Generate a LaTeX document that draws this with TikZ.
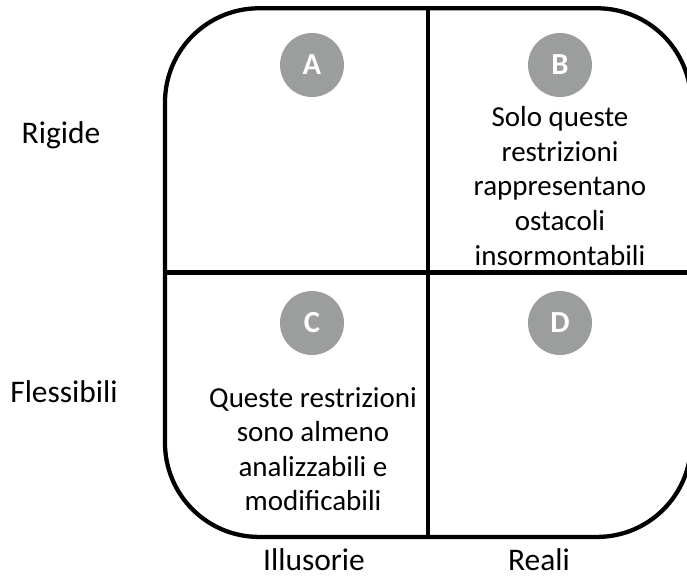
\documentclass[tikz,border=0pt]{standalone}
\usepackage{fontspec}
\setmainfont{Carlito}
\usetikzlibrary{positioning}
\definecolor{lettergray}{RGB}{156,158,158}

\begin{document}
\begin{tikzpicture}[x=0.75pt,y=-0.75pt,line width=3.2pt,
                box node/.style={draw,rounded corners=70.5pt,minimum width=394.5pt,minimum height=396.5pt,inner sep=0pt},
                letter node/.style={circle,fill=lettergray,text=white,minimum size=48pt,inner sep=0pt,font=\fontsize{23}{28}\selectfont\bfseries},
                text node/.style={align=center,font=\fontsize{21.75}{25.9}\selectfont},
                axis node/.style={inner sep=1pt,font=\fontsize{23.6}{28}\selectfont}]
            \useasboundingbox (0,0) rectangle (687,576);
            \node[box node] (box) at (428,272.6) {};
            \draw (box.north) -- (box.south);
            \draw (box.west) -- (box.east);
            % quadrants
            \node[letter node] (A) at (312,65) {A};
            \node[letter node] (B) at (560,65) {B};
            \node[letter node] (C) at (312,323) {C};
            \node[letter node] (D) at (560,323) {D};
            \node[text node] (Btext) at (560,186) {Solo queste\\restrizioni\\rappresentano\\ostacoli\\insormontabili};
            \node[text node] (Ctext) at (313,449) {Queste restrizioni\\sono almeno\\analizzabili e\\modificabili};
            % axes
            \node[axis node] (rigide) at (61,135) {Rigide};
            \node[axis node] (flessibili) at (64,392) {Flessibili};
            \node[axis node] (illusorie) at (314,560) {Illusorie};
            \node[axis node] (reali) at (539,560) {Reali};
        \end{tikzpicture}
\end{document}
